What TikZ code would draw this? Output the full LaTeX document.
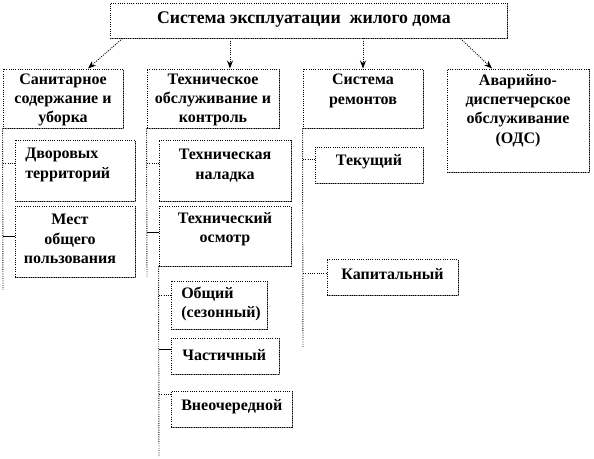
\documentclass[tikz,border=0pt]{standalone}
\usepackage{fontspec}
\setmainfont{Liberation Serif}
\usetikzlibrary{arrows.meta,shadows}
\tikzset{
  box/.style={draw,densely dotted,line width=0.7pt,fill=white,inner sep=0pt,
    drop shadow={shadow xshift=1pt,shadow yshift=-1pt,fill=black!50,opacity=1}},
  txt/.style={font=\fontsize{12}{14.5}\selectfont\bfseries,align=center,inner sep=0pt},
  link/.style={densely dotted,line width=0.7pt},
  arr/.style={densely dotted,line width=0.7pt,-{Stealth[length=6pt,width=4.5pt]}}
}
\begin{document}
\begin{tikzpicture}[x=0.75pt,y=-0.75pt]
  \useasboundingbox (0,0) rectangle (594,459);

  % Top level and the four branches below it.
  \node[box,minimum width=297.75pt,minimum height=26.25pt] (top) at (308.5,20.5) {};
  \node[txt,font=\fontsize{13.3}{16}\selectfont\bfseries] (tTop) at (304,20) {Система эксплуатации\ \ жилого дома};

  \node[box,minimum width=90pt,minimum height=44.25pt] (san) at (63,98.5) {};
  \node[txt] (tSan) at (63,100) {Санитарное\\содержание и\\уборка};
  \node[box,minimum width=99pt,minimum height=44.25pt] (tech) at (213,98.5) {};
  \node[txt] (tTech) at (213,100) {Техническое\\обслуживание и\\контроль};
  \node[box,minimum width=90pt,minimum height=44.25pt] (rem) at (363,98.5) {};
  \node[txt] (tRem) at (363,91) {Система\\ремонтов};
  \node[box,minimum width=106.5pt,minimum height=77.25pt] (avar) at (518,120.5) {};
  \node[txt] (tAvar) at (518,110.5) {Аварийно-\\диспетчерское\\обслуживание\\(ОДС)};

  \draw[arr] ([xshift=9.75pt]top.south west) -- ([xshift=18.75pt]san.north);
  \draw[arr] ([xshift=12.75pt]tech.north |- top.south) -- ([xshift=12.75pt]tech.north);
  \draw[arr] (rem.north |- top.south) -- (rem.north);
  \draw[arr] ([xshift=-35.25pt]top.south east) -- ([xshift=-19.5pt]avar.north);

  % Sanitary upkeep.
  \node[box,minimum width=90pt,minimum height=45.75pt] (dvor) at (75,170.5) {};
  \node[txt,anchor=west,align=left] (tDvor) at (25,165) {Дворовых\\территорий};
  \node[box,minimum width=90pt,minimum height=53.25pt] (mest) at (75,241.5) {};
  \node[txt] (tMest) at (70,239) {Мест\\общего\\пользования};
  \coordinate (sanEnd) at (3,290);
  \draw[link] (san.south west) -- (sanEnd);
  \draw[link] ([yshift=5.6pt]dvor.west -| sanEnd) -- ([yshift=5.6pt]dvor.west);
  \draw ([yshift=4pt]mest.west -| sanEnd) -- ([yshift=4pt]mest.west);

  % Technical service and inspection.
  \node[box,minimum width=99pt,minimum height=45.75pt] (nalad) at (225,170.5) {};
  \node[txt] (tNalad) at (225,165.5) {Техническая\\наладка};
  \node[box,minimum width=99pt,minimum height=45pt] (osmotr) at (225,236) {};
  \node[txt] (tOsmotr) at (225,229.5) {Технический\\осмотр};
  \coordinate (techEnd) at (147,278);
  \draw[link] (tech.south west) -- (techEnd);
  \draw[link] ([yshift=5.6pt]nalad.west -| techEnd) -- ([yshift=5.6pt]nalad.west);
  \draw ([yshift=3pt]osmotr.west -| techEnd) -- ([yshift=3pt]osmotr.west);

  \node[box,minimum width=72pt,minimum height=36pt] (obsh) at (219,305) {};
  \node[txt,anchor=west,align=left] (tObsh) at (181,304) {Общий\\(сезонный)};
  \node[box,minimum width=81pt,minimum height=27pt] (chast) at (225,356) {};
  \node[txt,anchor=west] (tChast) at (182,355) {Частичный};
  \node[box,minimum width=90.75pt,minimum height=27pt] (vneoch) at (231.5,409) {};
  \node[txt,anchor=west] (tVneoch) at (181,407) {Внеочередной};
  \coordinate (osmEnd) at (159,457);
  \draw[link] (osmotr.south west) -- (osmEnd);
  \draw[link] ([yshift=7.5pt]obsh.west -| osmEnd) -- ([yshift=7.5pt]obsh.west);
  \draw ([yshift=5.25pt]chast.west -| osmEnd) -- ([yshift=5.25pt]chast.west);
  \draw[link] ([yshift=11.25pt]vneoch.west -| osmEnd) -- ([yshift=11.25pt]vneoch.west);

  % Repairs.
  \node[box,minimum width=81pt,minimum height=27pt] (tek) at (369,165) {};
  \node[txt] (tTek) at (369,162) {Текущий};
  \node[box,minimum width=98.25pt,minimum height=27pt] (kap) at (392.5,277) {};
  \node[txt] (tKap) at (392.5,274) {Капитальный};
  \coordinate (remEnd) at (303,347);
  \draw[link] (rem.south west) -- (remEnd);
  \draw[link] ([yshift=4.5pt]tek.west -| remEnd) -- ([yshift=4.5pt]tek.west);
  \draw[link] ([yshift=3pt]kap.west -| remEnd) -- ([yshift=3pt]kap.west);
\end{tikzpicture}
\end{document}
